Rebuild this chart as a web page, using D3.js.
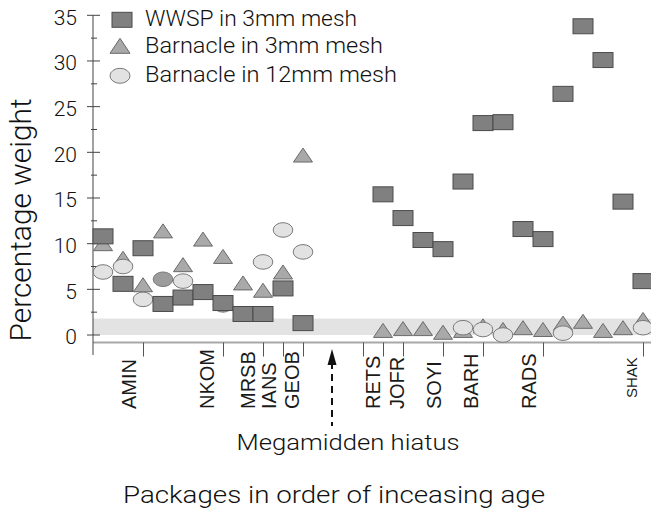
<!DOCTYPE html>
<html>
<head>
<meta charset="utf-8">
<script src="https://cdn.jsdelivr.net/npm/d3@7"></script>
<style>
  html, body { margin: 0; padding: 0; background: #fff; }
  svg { display: block; }
  text { font-family: "Liberation Sans", Arial, Helvetica, sans-serif; fill: #1a1a1a; }
  text.light { font-family: Roboto, "Liberation Sans", Arial, sans-serif; font-weight: 300; fill: #111; }
</style>
</head>
<body>
<svg id="chart" width="651" height="513"></svg>
<script>
// ---- data ----
// index positions 0..27 along x (11..13 = megamidden hiatus, empty)
const wwsp = [10.8, 5.6, 9.5, 3.4, 4.1, 4.7, 3.5, 2.3, 2.3, 5.1, 1.3,
              null, null, null,
              15.4, 12.8, 10.4, 9.4, 16.8, 23.2, 23.3, 11.6, 10.5, 26.4, 33.8, 30.1, 14.6, 5.9];
const barnacle3 = [10.0, 8.4, 5.5, 11.4, 7.7, 10.5, 8.6, 5.7, 4.9, 6.9, 19.7,
                   null, null, null,
                   0.5, 0.7, 0.7, 0.3, 0.5, 1.0, 0.6, 0.8, 0.6, 1.3, 1.5, 0.5, 0.8, 1.7];
const barnacle12 = [6.9, 7.5, 3.9, 6.1, 5.9, null, 3.3, null, 8.0, 11.5, 9.1,
                    null, null, null,
                    null, null, null, null, 0.8, 0.6, 0.0, null, null, 0.2, null, null, null, 0.8];
const packageLabels = ["AMIN", "NKOM", "MRSB", "IANS", "GEOB", "RETS", "JOFR", "SOYI", "BARH", "RADS", "SHAK"];
const packagePos = [1.3, 5.2, 7.25, 8.3, 9.45, 13.5, 14.7, 16.55, 18.4, 21.3, 26.45];
const groupBreaks = [2, 6, 8, 9, 10, 13, 14, 15, 17, 19, 22, 27];
const yTicks = [0, 5, 10, 15, 20, 25, 30, 35];
const yMinorTicks = [2.5, 7.5, 12.5, 17.5, 22.5, 27.5, 32.5];
const bandRange = [0, 1.8];
const hiatusPos = 11.45;
const legendNames = ["WWSP in 3mm mesh", "Barnacle in 3mm mesh", "Barnacle in 12mm mesh"];

// styling (not data)
const shadedCircles = [3, 6];
const C = {
  sqFill: "#808080", sqStroke: "#4a4a4a",
  triFill: "#a9a9a9", triStroke: "#6a6a6a",
  cirFill: "#e2e2e2", cirStroke: "#7a7a7a", cirShade: "#9c9c9c"
};

const svg = d3.select("#chart");
const x = d3.scaleLinear().domain([0, 27]).range([103, 643]);
const y = d3.scaleLinear().domain([0, 35]).range([335, 15.3]);
const axisX = x(-0.5);
const baseY = 342.5;

// grey band
svg.append("rect")
  .attr("x", axisX).attr("width", 651 - axisX)
  .attr("y", y(bandRange[1])).attr("height", y(bandRange[0]) - y(bandRange[1]))
  .attr("fill", "#e3e3e3");

// x baseline
svg.append("line").attr("x1", axisX).attr("x2", 651).attr("y1", baseY).attr("y2", baseY)
  .attr("stroke", "#a8a8a8").attr("stroke-width", 2);

// group separators
svg.append("g").selectAll("line").data(groupBreaks).join("line")
  .attr("x1", d => x(d) + 0.5).attr("x2", d => x(d) + 0.5)
  .attr("y1", baseY).attr("y2", baseY + 14)
  .attr("stroke", "#555").attr("stroke-width", 1);

// y axis
svg.append("line").attr("x1", axisX).attr("x2", axisX).attr("y1", y(35)).attr("y2", 355)
  .attr("stroke", "#444").attr("stroke-width", 1);
svg.append("g").selectAll("line").data(yTicks).join("line")
  .attr("x1", axisX - 6).attr("x2", axisX + 7)
  .attr("y1", d => y(d)).attr("y2", d => y(d))
  .attr("stroke", "#444").attr("stroke-width", 1);
svg.append("g").selectAll("line").data(yMinorTicks).join("line")
  .attr("x1", axisX - 2).attr("x2", axisX + 4)
  .attr("y1", d => y(d)).attr("y2", d => y(d))
  .attr("stroke", "#444").attr("stroke-width", 1);
svg.append("g").selectAll("text").data(yTicks).join("text")
  .attr("class", "light")
  .attr("x", 77).attr("y", d => y(d) + 2).attr("dy", "0.35em")
  .attr("text-anchor", "end").attr("font-size", 21)
  .text(d => d);

// y label
svg.append("text").attr("class", "light")
  .attr("transform", `translate(31,${220}) rotate(-90)`)
  .attr("text-anchor", "middle").attr("font-size", 29)
  .attr("textLength", 243).attr("lengthAdjust", "spacingAndGlyphs")
  .text("Percentage weight");

// package labels
svg.append("g").selectAll("text").data(packageLabels).join("text")
  .attr("transform", (d, i) => `translate(${x(packagePos[i])},${d === "SHAK" ? 398 : 409}) rotate(-90)`)
  .attr("dy", "0.35em")
  .attr("font-size", d => d === "SHAK" ? 15 : 20)
  .text(d => d);

// hiatus arrow
const ax = x(hiatusPos);
svg.append("line").attr("x1", ax).attr("x2", ax).attr("y1", 362).attr("y2", 426)
  .attr("stroke", "#111").attr("stroke-width", 2).attr("stroke-dasharray", "7,5");
svg.append("path")
  .attr("d", `M${ax - 4.5},${365} L${ax},${349} L${ax + 4.5},${365} Z`)
  .attr("fill", "#111");
svg.append("text").attr("class", "light").attr("x", ax + 16).attr("y", 450)
  .attr("text-anchor", "middle").attr("font-size", 22)
  .attr("textLength", 223).attr("lengthAdjust", "spacingAndGlyphs")
  .text("Megamidden hiatus");

// x title
svg.append("text").attr("class", "light").attr("x", 334).attr("y", 503)
  .attr("text-anchor", "middle").attr("font-size", 24)
  .attr("textLength", 422).attr("lengthAdjust", "spacingAndGlyphs")
  .text("Packages in order of inceasing age");

// marker shapes
const W = 20, H = 15;
const triPath = (cx, cy) => `M${cx - 9.5},${cy + 7} L${cx},${cy - 7} L${cx + 9.5},${cy + 7} Z`;

const idx = d3.range(wwsp.length);

svg.append("g").selectAll("path").data(idx.filter(i => barnacle3[i] != null)).join("path")
  .attr("d", i => triPath(x(i), y(barnacle3[i])))
  .attr("fill", C.triFill).attr("stroke", C.triStroke).attr("stroke-width", 1);

svg.append("g").selectAll("ellipse").data(idx.filter(i => barnacle12[i] != null)).join("ellipse")
  .attr("cx", i => x(i)).attr("cy", i => y(barnacle12[i]))
  .attr("rx", 9.8).attr("ry", 7.3)
  .attr("fill", i => shadedCircles.includes(i) ? C.cirShade : C.cirFill)
  .attr("stroke", C.cirStroke).attr("stroke-width", 1);

svg.append("g").selectAll("rect").data(idx.filter(i => wwsp[i] != null)).join("rect")
  .attr("x", i => x(i) - W / 2).attr("y", i => y(wwsp[i]) - H / 2)
  .attr("width", W).attr("height", H)
  .attr("fill", C.sqFill).attr("stroke", C.sqStroke).attr("stroke-width", 1);

// legend
const lg = svg.append("g");
const lgY = [19.8, 45.8, 75.8];
lg.append("rect").attr("x", 112).attr("y", lgY[0] - 7.5).attr("width", 20).attr("height", 15)
  .attr("fill", C.sqFill).attr("stroke", C.sqStroke);
lg.append("path").attr("d", `M110,${lgY[1] + 7.5} L120,${lgY[1] - 7.5} L130,${lgY[1] + 7.5} Z`)
  .attr("fill", C.triFill).attr("stroke", C.triStroke);
lg.append("ellipse").attr("cx", 120).attr("cy", lgY[2]).attr("rx", 10).attr("ry", 7.5)
  .attr("fill", C.cirFill).attr("stroke", C.cirStroke);
const lgW = [212, 238, 252];
const lgBase = [26, 53.3, 81.7];
lg.selectAll("text").data(legendNames).join("text")
  .attr("class", "light")
  .attr("x", 145).attr("y", (d, i) => lgBase[i])
  .attr("font-size", 22)
  .attr("textLength", (d, i) => lgW[i]).attr("lengthAdjust", "spacingAndGlyphs")
  .text(d => d);
</script>
</body>
</html>
